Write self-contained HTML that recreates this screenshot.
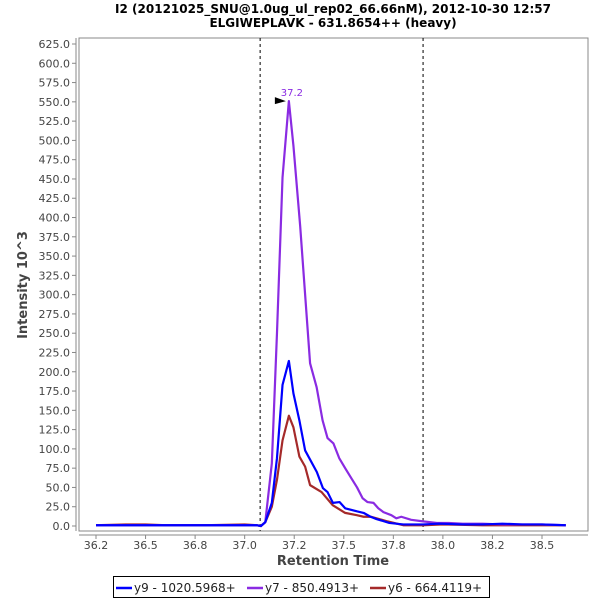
<!DOCTYPE html>
<html><head><meta charset="utf-8"><style>
body{margin:0;background:#fff;}
svg{display:block;font-family:"DejaVu Sans","Liberation Sans",sans-serif;}
</style></head><body>
<svg id="chart" width="600" height="600" viewBox="0 0 600 600">
<text x="333" y="13" text-anchor="middle" font-size="12" font-weight="bold" fill="#000">I2 (20121025_SNU@1.0ug_ul_rep02_66.66nM), 2012-10-30 12:57</text>
<text x="333" y="27" text-anchor="middle" font-size="12" font-weight="bold" fill="#000">ELGIWEPLAVK - 631.8654++ (heavy)</text>
<rect x="79" y="38" width="509" height="493" fill="#fff" stroke="#888" stroke-width="1"/>
<g id="yaxis"></g>
<g id="xaxis"></g>
<g id="series"></g>
<text transform="translate(27,285) rotate(-90)" text-anchor="middle" font-size="13" font-weight="bold" fill="#444">Intensity 10^3</text>
<text x="333" y="565" text-anchor="middle" font-size="13" font-weight="bold" fill="#444">Retention Time</text>
<g>
<rect x="113.5" y="576.5" width="376" height="21" fill="#fff" stroke="#000"/>
<line x1="116" y1="588" x2="132" y2="588" stroke="#0000ff" stroke-width="2.5"/>
<text x="134" y="592" font-size="12" fill="#222">y9 - 1020.5968+</text>
<line x1="247" y1="588" x2="263" y2="588" stroke="#8a2be2" stroke-width="2.5"/>
<text x="265" y="592" font-size="12" fill="#222">y7 - 850.4913+</text>
<line x1="370" y1="588" x2="386" y2="588" stroke="#a52a2a" stroke-width="2.5"/>
<text x="388" y="592" font-size="12" fill="#222">y6 - 664.4119+</text>
</g>
</svg>
<script>
const yTicks=[0,25,50,75,100,125,150,175,200,225,250,275,300,325,350,375,400,425,450,475,500,525,550,575,600,625];
const xTicks=[36.25,36.5,36.75,37.0,37.25,37.5,37.75,38.0,38.25,38.5];
const xTickLabels=["36.2","36.5","36.8","37.0","37.2","37.5","37.8","38.0","38.2","38.5"];
const boundaries=[37.078,37.90];
const peakTime=37.223, peakValue=551, peakLabel="37.2";
const y9Times=[36.25,36.4,36.6,36.8,37.0,37.06,37.082,37.104,37.137,37.163,37.191,37.223,37.246,37.276,37.305,37.364,37.395,37.418,37.445,37.479,37.507,37.566,37.6,37.635,37.665,37.73,37.8,37.9,37.98,38.1,38.2,38.3,38.4,38.5,38.62];
const y9Values=[1,1,1,1,1,1,0,5,30,88,183,214,172,137,98,70,49,44,30,31,23,19,17,12,9,4,2,2,3,2,2,3,2,2,1];
const y7Times=[36.25,36.4,36.6,36.8,37.0,37.06,37.082,37.104,37.137,37.163,37.191,37.223,37.246,37.28,37.33,37.363,37.393,37.418,37.448,37.477,37.507,37.538,37.567,37.595,37.62,37.65,37.674,37.7,37.74,37.765,37.79,37.84,37.9,37.97,38.03,38.1,38.2,38.3,38.4,38.5,38.62];
const y7Values=[1,1,1,1,1,1,0,5,81,250,452,551,493,389,211,180,137,114,107,88,75,62,50,36,31,30,23,18,14,10,12,8,6,4,4,3,3,2,2,2,1];
const y6Times=[36.25,36.4,36.5,36.6,36.8,37.0,37.06,37.082,37.104,37.137,37.163,37.191,37.223,37.246,37.276,37.305,37.33,37.388,37.444,37.507,37.566,37.6,37.636,37.665,37.72,37.8,37.9,38.0,38.2,38.4,38.62];
const y6Values=[1,2,2,1,1,2,1,0,5,25,60,111,143,128,90,77,53,44,27,17,14,12,12,10,6,1,1,2,1,1,1];
const X0=36.25,X1=38.5,PX0=96,PX1=542,PY0=526,PY1=44;
function xs(t){return PX0+(t-X0)*(PX1-PX0)/(X1-X0);}
function ys(v){return PY0-v*(PY0-PY1)/625;}
const NS="http://www.w3.org/2000/svg";
function mk(tag,attrs,parent){const e=document.createElementNS(NS,tag);for(const k in attrs)e.setAttribute(k,attrs[k]);parent.appendChild(e);return e;}
const yg=document.getElementById('yaxis');
mk('line',{x1:76,y1:38,x2:76,y2:531,stroke:'#888'},yg);
yTicks.forEach(v=>{const y=ys(v);
 mk('line',{x1:72,y1:y,x2:76,y2:y,stroke:'#888'},yg);
 const t=mk('text',{x:70,y:y+4,'text-anchor':'end','font-size':11,fill:'#444'},yg);t.textContent=v.toFixed(1);
 
 });
const xg=document.getElementById('xaxis');
mk('line',{x1:79,y1:535,x2:588,y2:535,stroke:'#888'},xg);
xTicks.forEach((v,i)=>{const x=xs(v);
 mk('line',{x1:x,y1:535,x2:x,y2:539,stroke:'#888'},xg);
 const t=mk('text',{x:x,y:549,'text-anchor':'middle','font-size':11,fill:'#444'},xg);t.textContent=xTickLabels[i];
 
 });
const sg=document.getElementById('series');
boundaries.forEach(b=>{const l=mk('line',{x1:xs(b),y1:38,x2:xs(b),y2:531,stroke:'#000','stroke-dasharray':'3,3','stroke-width':1},sg);
 
 });
function series(times,vals,color,name){
 const p=mk('polyline',{points:times.map((t,i)=>xs(t)+','+ys(vals[i])).join(' '),fill:'none',stroke:color,'stroke-width':2.2,'stroke-linejoin':'round'},sg);
 
 }
series(y6Times,y6Values,'#a52a2a','series-y6');
series(y7Times,y7Values,'#8a2be2','series-y7');
series(y9Times,y9Values,'#0000ff','series-y9');
const px=xs(peakTime),py=ys(peakValue);
const ar=mk('polygon',{points:(px-14)+','+(py-4)+' '+(px-3)+','+py+' '+(px-14)+','+(py+3),fill:'#000'},sg);


const pl=mk('text',{x:px+3,y:py-5,'text-anchor':'middle','font-size':10,fill:'#8a2be2'},sg);pl.textContent=peakLabel;


</script>
</body></html>
